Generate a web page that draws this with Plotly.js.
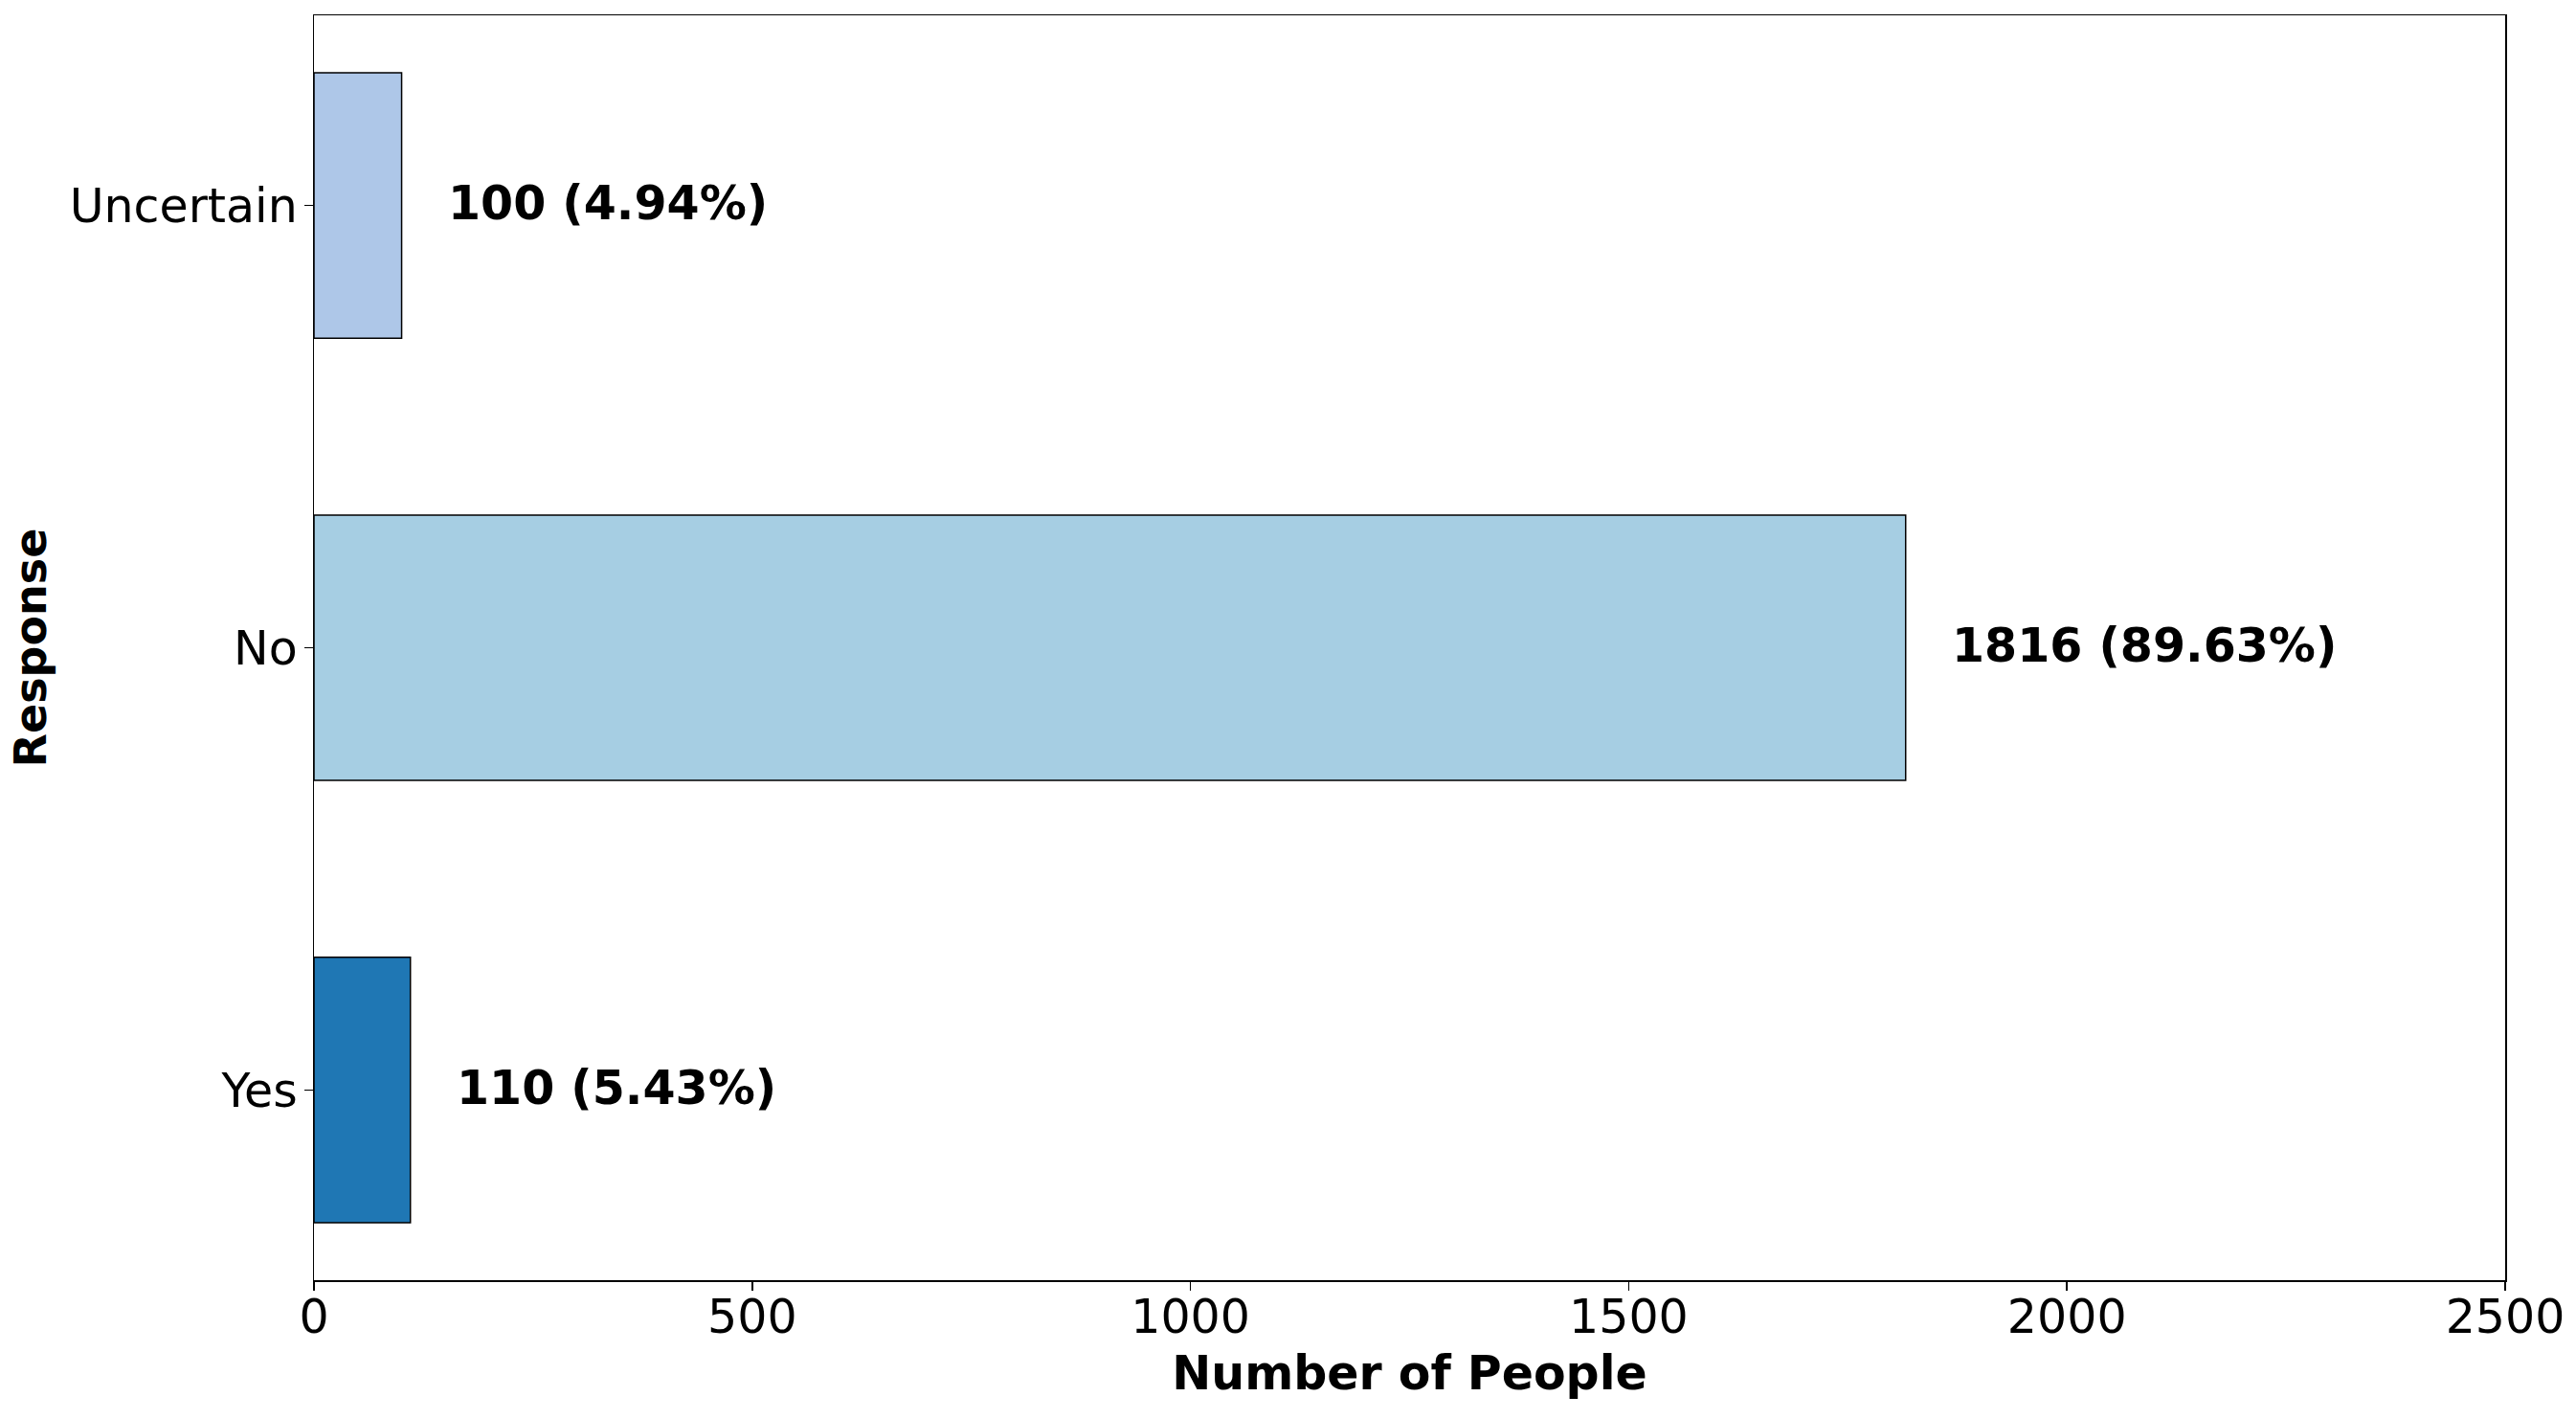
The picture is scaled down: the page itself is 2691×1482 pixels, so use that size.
<!DOCTYPE html>
<html>
<head>
<meta charset="utf-8">
<script src="https://cdn.plot.ly/plotly-3.0.1.min.js"></script>
<style>html,body{margin:0;padding:0;background:#fff;}#chart{width:2691px;height:1482px;}</style>
</head>
<body>
<div id="chart"></div>
<script>
const categories = ["Yes", "No", "Uncertain"];
const counts = [110, 1816, 100];
const percents = ["5.43%", "89.63%", "4.94%"];
const barColors = ["#1f77b4", "#a6cee3", "#aec7e8"];
const xTicks = [0, 500, 1000, 1500, 2000, 2500];

const FONT = "DejaVu Sans, Liberation Sans, sans-serif";

const trace = {
  type: "bar",
  orientation: "h",
  y: categories,
  x: counts,
  width: 0.6,
  marker: { color: barColors, line: { color: "#000", width: 1.5 } },
  hoverinfo: "skip"
};

const annotations = categories.map((c, i) => ({
  x: counts[i], y: c, xref: "x", yref: "y",
  text: "<b>" + counts[i] + " (" + percents[i] + ")</b>",
  showarrow: false, xanchor: "left", yanchor: "middle", xshift: 46, yshift: 2,
  font: { family: FONT, size: 49, color: "#000" }
}));

const layout = {
  width: 2691, height: 1482,
  margin: { l: 328, r: 74, t: 16, b: 145 },
  paper_bgcolor: "#fff", plot_bgcolor: "#fff",
  showlegend: false,
  xaxis: {
    range: [0, 2500], tickvals: xTicks, ticktext: xTicks.map(String),
    showgrid: false, zeroline: false,
    showline: true, linecolor: "#000", linewidth: 1.5, mirror: true,
    ticks: "outside", ticklen: 9, tickwidth: 1.5, tickcolor: "#000",
    ticklabelstandoff: -14,
    tickfont: { family: FONT, size: 49, color: "#000" },
    title: { text: "<b>Number of People</b>", font: { family: FONT, size: 49, color: "#000" }, standoff: 13 }
  },
  yaxis: {
    type: "category", range: [-0.43, 2.43],
    showgrid: false, zeroline: false,
    showline: true, linecolor: "#000", linewidth: 1.5, mirror: true,
    ticks: "outside", ticklen: 9, tickwidth: 1.5, tickcolor: "#000",
    ticklabelstandoff: -3,
    tickfont: { family: FONT, size: 49, color: "#000" },
    title: { text: "<b>Response</b>", font: { family: FONT, size: 46, color: "#000" }, standoff: 9 }
  },
  annotations: annotations
};

Plotly.newPlot("chart", [trace], layout, { displayModeBar: false, staticPlot: true });
</script>
</body>
</html>
